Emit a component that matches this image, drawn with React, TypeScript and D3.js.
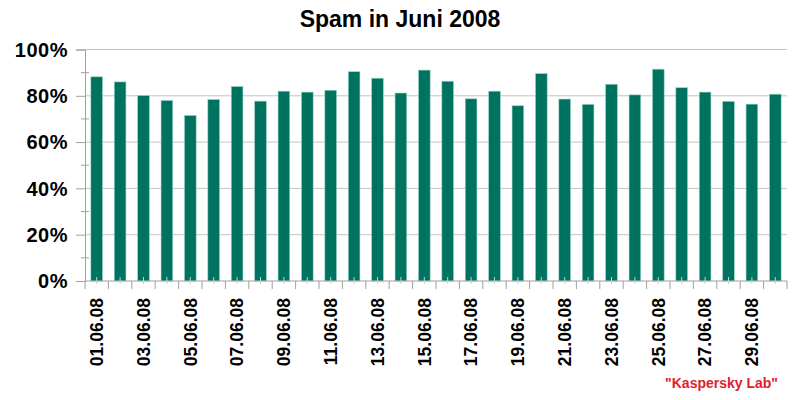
import React, { useRef, useEffect } from "react";
import * as d3 from "d3";

// daily spam share in June 2008, percent
const days = d3.range(1, 31).map((d) => `${String(d).padStart(2, "0")}.06.08`);
const spamShare = [
	88.2, 86.0, 80.1, 78.0, 71.5, 78.4, 84.0, 77.7, 82.0, 81.6,
	82.4, 90.4, 87.6, 81.2, 91.1, 86.3, 78.7, 82.0, 75.7, 89.6,
	78.6, 76.3, 85.0, 80.4, 91.5, 83.5, 81.6, 77.6, 76.4, 80.7,
];
const yTicks = [0, 20, 40, 60, 80, 100];
const yMinorTicks = [10, 30, 50, 70, 90];

const SpamChart = () => {
	const svgRef = useRef<SVGSVGElement | null>(null);

	useEffect(() => {
		if (!svgRef.current) return;
		const width = 800;
		const height = 400;
		const margin = { top: 49.5, right: 13, bottom: 119, left: 85 };
		const innerWidth = width - margin.left - margin.right;
		const innerHeight = height - margin.top - margin.bottom;
		const font = "'Liberation Sans', Arial, sans-serif";

		const svg = d3.select(svgRef.current);
		svg.selectAll("*").remove();
		svg.attr("width", width).attr("height", height);

		svg.append("text")
			.attr("x", 400)
			.attr("y", 27)
			.attr("text-anchor", "middle")
			.style("font-family", font)
			.style("font-weight", "bold")
			.style("font-size", "23px")
			.text("Spam in Juni 2008");

		const g = svg
			.append("g")
			.attr("transform", `translate(${margin.left},${margin.top})`);

		const x = d3.scaleBand().domain(days).range([0, innerWidth]).paddingInner(0.5).paddingOuter(0.25);
		const y = d3.scaleLinear().domain([0, 100]).range([innerHeight, 0]);

		// gridlines
		g.append("g")
			.selectAll("line")
			.data(yTicks.slice(1))
			.join("line")
			.attr("x1", 0)
			.attr("x2", innerWidth)
			.attr("y1", (d) => y(d))
			.attr("y2", (d) => y(d))
			.attr("stroke", "#c4c4c4")
			.attr("stroke-width", 1);

		// bars
		g.append("g")
			.selectAll("rect")
			.data(spamShare)
			.join("rect")
			.attr("x", (_, i) => x(days[i])!)
			.attr("y", (d) => y(d))
			.attr("width", x.bandwidth())
			.attr("height", (d) => innerHeight - y(d))
			.attr("fill", "#007360")
			.attr("stroke", "#9ad6c6")
			.attr("stroke-width", 0.6);

		// y axis: major ticks outside, minor ticks crossing
		const yg = g.append("g").call(d3.axisLeft(y).tickValues(yTicks).tickSize(9).tickFormat(() => ""));
		yg.select(".domain").attr("stroke", "#a0a0a0");
		yg.selectAll(".tick line").attr("stroke", "#a0a0a0");
		g.append("g")
			.selectAll("line")
			.data(yMinorTicks)
			.join("line")
			.attr("x1", -4)
			.attr("x2", 4)
			.attr("y1", (d) => y(d))
			.attr("y2", (d) => y(d))
			.attr("stroke", "#a0a0a0");

		g.append("g")
			.selectAll("text")
			.data(yTicks)
			.join("text")
			.attr("x", -17)
			.attr("y", (d) => y(d))
			.attr("dy", "0.36em")
			.attr("text-anchor", "end")
			.style("font-family", font)
			.style("font-weight", "bold")
			.style("font-size", "20px")
			.style("letter-spacing", "0.5px")
			.text((d) => `${d}%`);

		// x axis with ticks between categories
		const step = x.step();
		const xg = g.append("g").attr("transform", `translate(0,${innerHeight})`);
		xg.append("line")
			.attr("x1", 0)
			.attr("x2", innerWidth)
			.attr("stroke", "#a0a0a0");
		xg.selectAll("line.sep")
			.data(d3.range(days.length + 1))
			.join("line")
			.attr("class", "sep")
			.attr("x1", (i) => i * step)
			.attr("x2", (i) => i * step)
			.attr("y1", 0)
			.attr("y2", 8)
			.attr("stroke", "#a0a0a0");
		xg.selectAll("line.mid")
			.data(days)
			.join("line")
			.attr("class", "mid")
			.attr("x1", (d) => x(d)! + x.bandwidth() / 2)
			.attr("x2", (d) => x(d)! + x.bandwidth() / 2)
			.attr("y1", -4)
			.attr("y2", 3)
			.attr("stroke", "#b8d8d0");

		xg.selectAll("text")
			.data(days.filter((_, i) => i % 2 === 0))
			.join("text")
			.attr(
				"transform",
				(d) => `translate(${x(d)! + x.bandwidth() / 2},17) rotate(-90)`
			)
			.attr("dy", "0.36em")
			.attr("text-anchor", "end")
			.style("font-family", font)
			.style("font-weight", "bold")
			.style("font-size", "17.5px")
			.text((d) => d);

		svg.append("text")
			.attr("x", 778)
			.attr("y", 388)
			.attr("text-anchor", "end")
			.style("font-family", font)
			.style("font-weight", "bold")
			.style("font-size", "14px")
			.attr("fill", "#e0202c")
			.text('"Kaspersky Lab"');
	}, []);

	return (
		<svg
			ref={svgRef}
			style={{ position: "absolute", left: 0, top: 0, display: "block", background: "#fff" }}
		></svg>
	);
};

export default function App() {
	return <SpamChart />;
}
